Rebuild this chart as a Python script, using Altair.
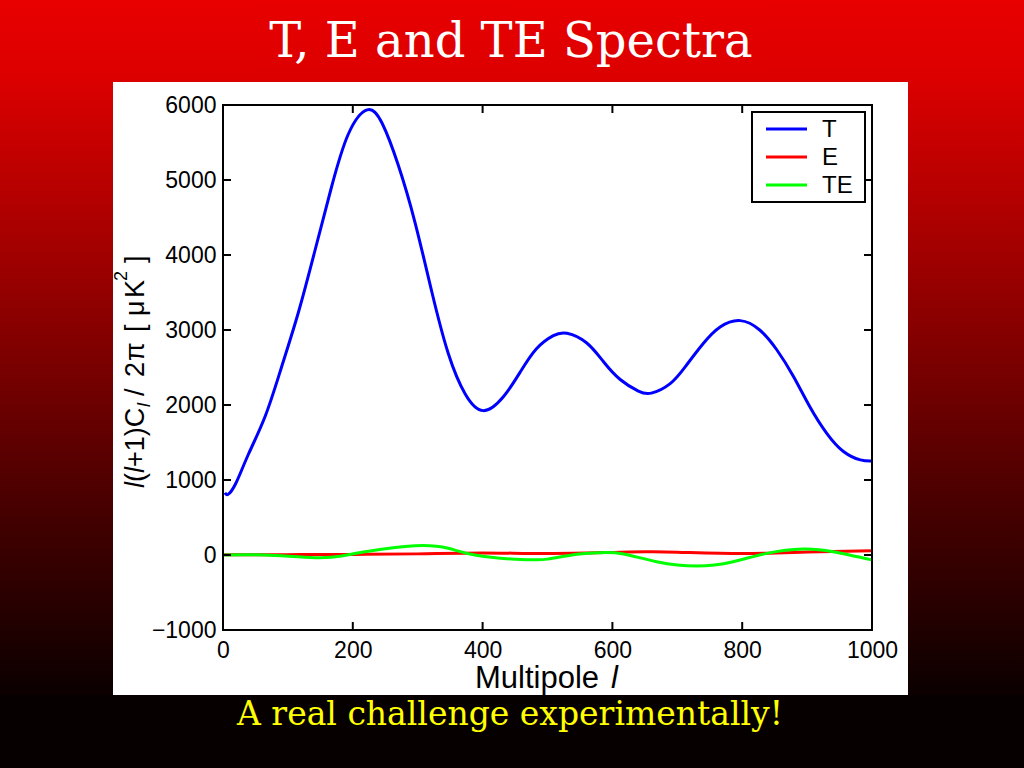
import altair as alt
import pandas as pd

# ---------------- data ----------------
t_l = [3, 8, 20, 39, 65, 90, 116, 142, 167, 193, 222, 245, 270, 296, 322, 347, 373, 401,
       432, 458, 483, 509, 530, 560, 586, 612, 640, 660, 689, 714, 740, 766, 797, 827,
       853, 879, 904, 930, 956, 982, 1000]
t_v = [830, 810, 960, 1340, 1850, 2500, 3230, 4070, 4900, 5610, 5935, 5760, 5200, 4430,
       3500, 2690, 2150, 1925, 2110, 2440, 2750, 2925, 2956, 2830, 2580, 2340, 2185, 2158,
       2285, 2530, 2820, 3040, 3125, 3000, 2740, 2380, 1980, 1625, 1380, 1268, 1253]

e_l = [0, 100, 200, 300, 400, 500, 600, 650, 700, 800, 900, 1000]
e_v = [2, 5, 8, 15, 28, 20, 35, 42, 38, 20, 40, 58]

te_l = [0, 65, 142, 183, 219, 296, 347, 388, 450, 475, 500, 540, 581, 617, 668, 730, 786,
        838, 894, 940, 1000]
te_v = [0, 0, -36, -13, 44, 124, 89, 0, -58, -62, -55, 4, 31, 13, -89, -147, -89, 22, 80,
        44, -65]

series_names = ["T", "E", "TE"]
series_colors = ["#0000ff", "#ff0000", "#00ff00"]
x_ticks = [0, 200, 400, 600, 800, 1000]
y_ticks = [-1000, 0, 1000, 2000, 3000, 4000, 5000, 6000]
title_text = "T, E and TE Spectra"
footer_text = "A real challenge experimentally!"
xlabel_text = "Multipole"

# ---------------- layout ----------------
W, H = 649, 525
LEFT, TOP = 223, 105
CW, CH = 1024, 768

x_scale = alt.Scale(domain=[0, 1000], nice=False, zero=False)
y_scale = alt.Scale(domain=[-1000, 6000], nice=False, zero=False)

axis_common = dict(ticks=False, tickSize=0, domain=False, grid=False, title=None,
                   format="d", labelFont="Liberation Sans", labelFontSize=23,
                   labelColor="black", labelFlush=False, labelOverlap=False, zindex=1)
X_AXIS = alt.Axis(values=x_ticks, labelPadding=9, **axis_common)
Y_AXIS = alt.Axis(values=y_ticks, labelPadding=7, **axis_common)

one = pd.DataFrame({"a": [0]})


def px(v):
    return alt.value(v - LEFT)


def py(v):
    return alt.value(v - TOP)


# background gradient
bg = alt.Chart(one).mark_rect(
    fill=alt.LinearGradient(
        gradient="linear",
        stops=[
            alt.GradientStop(color="#e80000", offset=0),
            alt.GradientStop(color="#dc0000", offset=0.1),
            alt.GradientStop(color="#a40000", offset=0.32),
            alt.GradientStop(color="#4a0000", offset=0.65),
            alt.GradientStop(color="#0c0000", offset=0.9),
            alt.GradientStop(color="#050000", offset=1),
        ],
        x1=0, x2=0, y1=0, y2=1,
    )
).encode(x=px(0), x2=px(CW), y=py(0), y2=py(CH))

band = alt.Chart(one).mark_rect(fill="#060000").encode(
    x=px(0), x2=px(CW), y=py(695), y2=py(CH))

panel = alt.Chart(one).mark_rect(fill="white").encode(
    x=px(113), x2=px(908), y=py(82), y2=py(695))


def series_layer(ls, vs, color):
    d = pd.DataFrame({"l": ls, "v": vs})
    return alt.Chart(d).mark_line(color=color, strokeWidth=3, interpolate="natural").encode(
        x=alt.X("l:Q", scale=x_scale, axis=X_AXIS),
        y=alt.Y("v:Q", scale=y_scale, axis=Y_AXIS),
    )


t_layer = series_layer(t_l, t_v, series_colors[0])
e_layer = series_layer(e_l, e_v, series_colors[1])
te_layer = series_layer(te_l, te_v, series_colors[2])

# frame and inward ticks
frame = alt.Chart(one).mark_rect(fill="transparent", stroke="black", strokeWidth=2).encode(
    x=alt.value(0), x2=alt.value(W), y=alt.value(0), y2=alt.value(H))

xt = pd.DataFrame({"l": x_ticks})
yt = pd.DataFrame({"v": y_ticks})
TL = 8
tick_bottom = alt.Chart(xt).mark_rule(color="black", strokeWidth=2).encode(
    x=alt.X("l:Q", scale=x_scale, axis=X_AXIS), y=alt.value(H), y2=alt.value(H - TL))
tick_top = alt.Chart(xt).mark_rule(color="black", strokeWidth=2).encode(
    x=alt.X("l:Q", scale=x_scale, axis=X_AXIS), y=alt.value(0), y2=alt.value(TL))
tick_left = alt.Chart(yt).mark_rule(color="black", strokeWidth=2).encode(
    y=alt.Y("v:Q", scale=y_scale, axis=Y_AXIS), x=alt.value(0), x2=alt.value(TL))
tick_right = alt.Chart(yt).mark_rule(color="black", strokeWidth=2).encode(
    y=alt.Y("v:Q", scale=y_scale, axis=Y_AXIS), x=alt.value(W), x2=alt.value(W - TL))

# legend (drawn by hand, matlab style)
legend_box = alt.Chart(one).mark_rect(fill="white", stroke="black", strokeWidth=2).encode(
    x=px(752), x2=px(865), y=py(112), y2=py(202))
legend_layers = [legend_box]
for i, (name, col) in enumerate(zip(series_names, series_colors)):
    yy = 129 + 28 * i
    legend_layers.append(
        alt.Chart(one).mark_rule(color=col, strokeWidth=3).encode(
            x=px(766), x2=px(807), y=py(yy)))
    legend_layers.append(
        alt.Chart(one).mark_text(text=name, font="Liberation Sans", fontSize=24,
                                 align="left", baseline="middle", color="black").encode(
            x=px(822), y=py(yy + 1)))

# texts
title = alt.Chart(one).mark_text(text=title_text, font="DejaVu Serif", fontSize=48,
                                 color="white", align="center", baseline="alphabetic").encode(
    x=px(511), y=py(57))
footer = alt.Chart(one).mark_text(text=footer_text, font="DejaVu Serif", fontSize=33,
                                  color="#ffff00", align="center", baseline="alphabetic").encode(
    x=px(510), y=py(725))
xlab1 = alt.Chart(one).mark_text(text=xlabel_text, font="Liberation Sans", fontSize=31,
                                 color="black", align="left", baseline="alphabetic").encode(
    x=px(475), y=py(688))
xlab2 = alt.Chart(one).mark_text(text="l", font="Liberation Sans", fontSize=31, fontStyle="italic",
                                 color="black", align="left", baseline="alphabetic").encode(
    x=px(611), y=py(688))

ylabel_pieces = [
    ("l", 488, 143.5, 27, True),
    ("(", 482, 143.5, 27, False),
    ("l", 473, 143.5, 27, True),
    ("+1)C", 467, 143.5, 27, False),
    ("l", 407, 150, 18, True),
    ("/", 396, 143.5, 27, False),
    ("2", 377, 143.5, 27, False),
    ("π", 361, 143.5, 27, False),
    ("[", 332, 143.5, 27, False),
    ("μ", 316, 143.5, 27, False),
    ("K", 298, 143.5, 27, False),
    ("2", 281, 127, 18, False),
    ("]", 263, 143.5, 27, False),
]
ylab_layers = []
for txt, ys, xb, fs, it in ylabel_pieces:
    kw = dict(text=txt, font="Liberation Sans", fontSize=fs, color="black", angle=270,
              align="left", baseline="alphabetic")
    if it:
        kw["fontStyle"] = "italic"
    ylab_layers.append(alt.Chart(one).mark_text(**kw).encode(x=px(xb), y=py(ys)))

chart = alt.layer(
    bg, band, panel,
    t_layer, e_layer, te_layer,
    frame, tick_bottom, tick_top, tick_left, tick_right,
    *legend_layers,
    title, footer, xlab1, xlab2, *ylab_layers,
).properties(
    width=W, height=H,
    padding={"left": LEFT, "top": TOP, "right": CW - LEFT - W, "bottom": CH - TOP - H},
    autosize=alt.AutoSizeParams(type="none"),
    background="black",
).configure_view(stroke=None)

chart.save("out.html", embed_options={"renderer": "svg", "actions": False})
